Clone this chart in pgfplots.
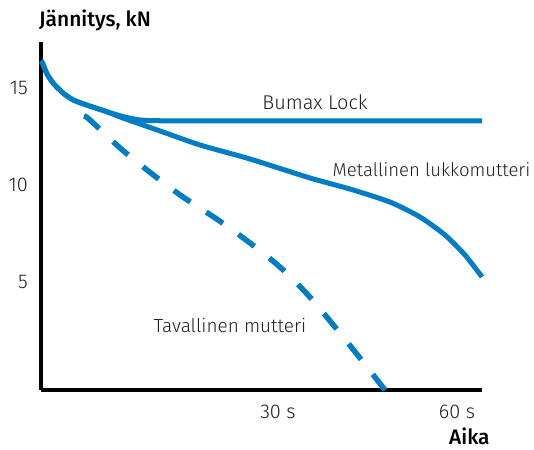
\documentclass[border=0pt]{standalone}
\usepackage{fontspec}
\setmainfont{Fira Sans}[UprightFont={* Light}, BoldFont={* Medium}]
\usepackage{pgfplots}
\pgfplotsset{compat=1.18}
\definecolor{lineblue}{RGB}{0,125,197}
\definecolor{txt}{RGB}{30,30,30}
\begin{document}
\begin{tikzpicture}[x=1bp,y=1bp]
\path[use as bounding box] (0,0) rectangle (534,450);
\begin{axis}[
 at={(41bp,60bp)}, anchor=south west,
 scale only axis, width=441bp, height=348bp,
 xmin=0, xmax=441, ymin=-0.567, ymax=17.37,
 axis x line=bottom, axis y line=left,
 axis line style={line width=3.5bp, -, black},
 xtick={237,416}, xticklabels={30 s, 60 s},
 ytick={5,10,15},
 major tick length=0,
 tick label style={font=\fontsize{20}{24}\selectfont, color=txt, inner sep=0pt},
 xticklabel style={anchor=north, yshift=-15bp},
 yticklabel style={anchor=east, xshift=-13bp},
 /pgf/number format/assume math mode=true,
 clip=false,
]
% Bumax Lock
\addplot[lineblue, line width=5bp, smooth, tension=0.4] coordinates {
 (0,16.39) (1.7,16.27) (5.7,15.76) (12.3,15.24) (22.3,14.73) (32.3,14.38)
 (45.7,14.12) (65.7,13.78) (82.3,13.52) (99,13.35) (119,13.31) (159,13.31) (441,13.31)};
% Metallinen lukkomutteri
\addplot[lineblue, line width=5bp, smooth, tension=0.4] coordinates {
 (0,16.39) (1.7,16.27) (5.7,15.76) (12.3,15.24) (22.3,14.73) (32.3,14.38)
 (45.7,14.12) (65.7,13.78) (82,13.45) (122,12.73) (159,12.06) (209,11.34)
 (269,10.36) (309,9.79) (349,9.12) (379,8.35) (404,7.42) (424,6.39) (441,5.26)};
% Tavallinen mutteri
\addplot[lineblue, line width=5.5bp, smooth, tension=0.5, dash pattern=on 20bp off 19bp] coordinates {
 (43,13.56) (49,13.35) (79,11.91) (111,10.57) (142,9.38) (177,8.20) (209,7.01)
 (239,5.77) (267,4.33) (294,2.68) (319,1.08) (344,-0.57)};
\end{axis}
\node[anchor=base west, inner sep=0, font=\fontsize{21}{24}\selectfont\bfseries, color=black] at (39,423) {Jännitys, kN};
\node[anchor=base west, inner sep=0, font=\fontsize{21}{24}\selectfont\bfseries, color=black] at (449,5) {Aika};
\node[anchor=base, inner sep=0, font=\fontsize{20}{24}\selectfont, color=txt] at (315,340) {Bumax Lock};
\node[anchor=base, inner sep=0, font=\fontsize{18.6}{24}\selectfont, color=txt] at (431.5,273) {Metallinen lukkomutteri};
\node[anchor=base, inner sep=0, font=\fontsize{19}{24}\selectfont, color=txt] at (230,117) {Tavallinen mutteri};
\end{tikzpicture}
\end{document}
